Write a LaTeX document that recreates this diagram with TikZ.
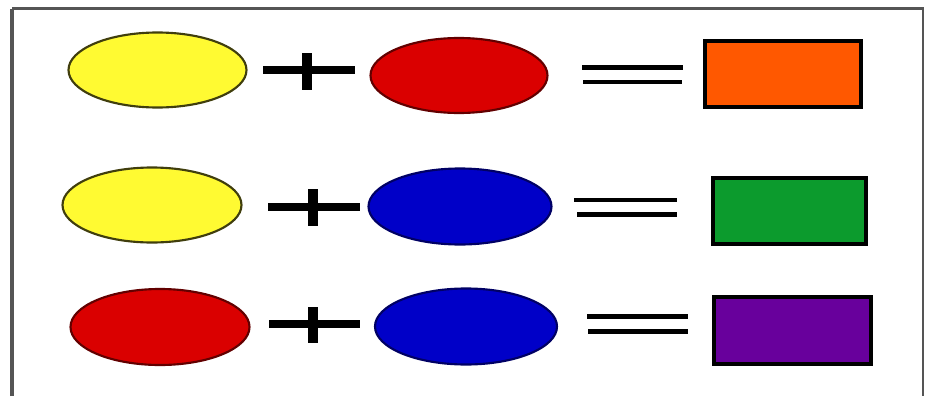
\documentclass[tikz,border=0pt]{standalone}
\usepackage{tikz}
\definecolor{ylw}{RGB}{255,250,50}
\definecolor{rd}{RGB}{218,0,0}
\definecolor{blu}{RGB}{0,0,200}
\definecolor{orng}{RGB}{255,88,0}
\definecolor{grn}{RGB}{12,155,45}
\definecolor{prpl}{RGB}{104,0,156}
\definecolor{frm}{RGB}{85,85,85}

\begin{document}
\begin{tikzpicture}[x=0.75pt,y=0.75pt,yscale=-1,xscale=1]
\useasboundingbox (0,0) rectangle (927,396);

%Frame (open at the bottom)
\draw [color=frm, line width=3pt]  (12,396) -- (12,8.5) ;
\draw [color=frm, line width=2.2pt]  (12,8.5) -- (923,8.5) -- (923,396) ;

%Shape: Ellipse (row 1)
\draw  [fill=ylw, draw=ylw!25!black, line width=1.6pt] (157.5,70) ellipse (89 and 37.5) ;
%Shape: Ellipse
\draw  [fill=rd, draw=rd!45!black, line width=1.6pt] (459,75.5) ellipse (88.5 and 37.5) ;
%Shape: Rectangle
\draw  [fill=orng, line width=3pt] (704.5,40.5) rectangle (860.5,106.5) ;

%Shape: Ellipse (row 2)
\draw  [fill=ylw, draw=ylw!25!black, line width=1.6pt] (152,205) ellipse (89.5 and 37.5) ;
%Shape: Ellipse
\draw  [fill=blu, draw=blu!50!black, line width=1.6pt] (460,206.5) ellipse (91.5 and 38) ;
%Shape: Rectangle
\draw  [fill=grn, line width=3pt] (712.5,177.5) rectangle (866,243.5) ;

%Shape: Ellipse (row 3)
\draw  [fill=rd, draw=rd!45!black, line width=1.6pt] (160,327) ellipse (89.5 and 38) ;
%Shape: Ellipse
\draw  [fill=blu, draw=blu!50!black, line width=1.6pt] (466,326.5) ellipse (91 and 38) ;
%Shape: Rectangle
\draw  [fill=prpl, line width=3pt] (714,296.5) rectangle (870.5,363.5) ;

%Plus signs
\draw [line width=5.5pt]  (263,70) -- (355,70) ;
\draw [line width=8pt]  (307,53) -- (307,90) ;
\draw [line width=5.5pt]  (268,207) -- (360,207) ;
\draw [line width=8pt]  (313,189) -- (313,226) ;
\draw [line width=5.5pt]  (269,324) -- (360,324) ;
\draw [line width=8pt]  (313,307) -- (313,343) ;

%Equal signs
\draw [line width=3.7pt]  (582,67.5) -- (683,67.5) ;
\draw [line width=3.7pt]  (583,82) -- (682,82) ;
\draw [line width=3.7pt]  (574,200) -- (677,200) ;
\draw [line width=3.7pt]  (577,214.5) -- (677,214.5) ;
\draw [line width=3.7pt]  (587,316.5) -- (688,316.5) ;
\draw [line width=3.7pt]  (588,331.5) -- (688,331.5) ;
\end{tikzpicture}
\end{document}
